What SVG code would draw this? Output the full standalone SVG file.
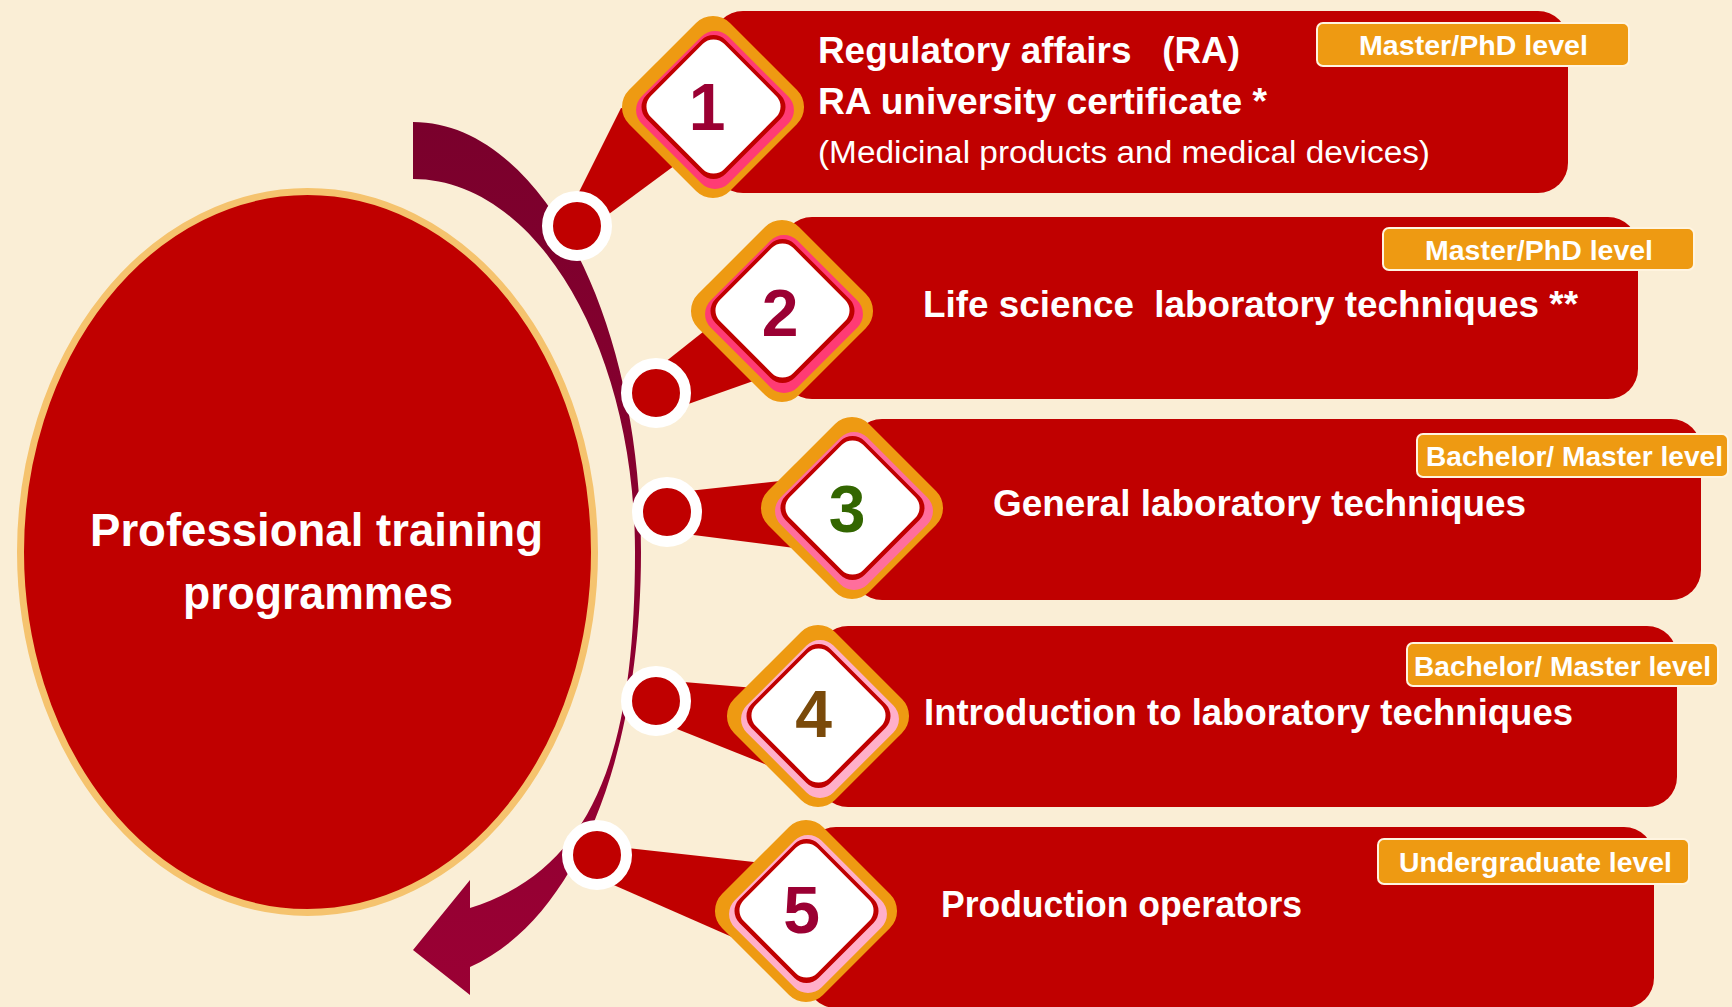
<svg xmlns="http://www.w3.org/2000/svg" xmlns:xlink="http://www.w3.org/1999/xlink" width="1732" height="1007" viewBox="0 0 1732 1007">
<style>
.bg{fill:#FAEED6}
.banner{fill:#C00000}
.band{fill:#C00000}
.dot{fill:#C00000;stroke:#FFFFFF;stroke-width:11}
.main{font-family:"Liberation Sans",Arial,sans-serif;font-weight:bold;fill:#FFFFFF;font-size:37px;white-space:pre}
.sub{font-family:"Liberation Sans",Arial,sans-serif;font-weight:normal;fill:#FFFFFF;font-size:31px;white-space:pre}
.lvl{fill:#EE9A12;stroke:#FFF4E0;stroke-width:2}
.lvlt{font-family:"Liberation Sans",Arial,sans-serif;font-weight:bold;fill:#FFFFFF;font-size:28px;text-anchor:middle}
.num{font-family:"Liberation Sans",Arial,sans-serif;font-weight:bold;font-size:66px;text-anchor:middle}
.title{font-family:"Liberation Sans",Arial,sans-serif;font-weight:bold;fill:#FFFFFF;font-size:46px;text-anchor:middle}
</style>
<defs>
<linearGradient id="arcGrad" x1="0" y1="0" x2="0" y2="1">
<stop offset="0" stop-color="#7A002C"/>
<stop offset="1" stop-color="#9A0034"/>
</linearGradient>
<rect id="dOuter" x="-71.4" y="-71.4" width="142.8" height="142.8" rx="24" transform="rotate(45)"/>
<rect id="dPink" x="-61.4" y="-61.4" width="122.8" height="122.8" rx="19" transform="translate(2,3) rotate(45)"/>
<rect id="dRed" x="-55.9" y="-55.9" width="111.8" height="111.8" rx="17" transform="translate(0.5,0) rotate(45)"/>
<rect id="dWhite" x="-51.8" y="-51.8" width="103.6" height="103.6" rx="15" transform="translate(0.5,-0.5) rotate(45)"/>
</defs>

<rect class="bg" x="0" y="0" width="1732" height="1007"/>

<g id="connectors">
<path id="cycle-arrow" fill="url(#arcGrad)" d="M413,122 C539,122 641,314.5 641,552 C641,760 575,920 470,967 L470,995 L413,950 L470,880 L470,908 C590,870 635,760 635,552 C635,346 535.6,179 413,179 Z"/>
<polygon class="band" points="566,218 621,108 700,120 678,163 590,228"/>
<polygon class="band" points="650,374 708,328 770,320 759,379 660,414"/>
<polygon class="band" points="670,493 789,480 830,508 802,549 670,532"/>
<polygon class="band" points="660,680 755,688 800,716 782,771 662,723"/>
<polygon class="band" points="600,845 763,863 790,911 748,944 600,879"/>
<circle class="dot" cx="577" cy="226" r="29.5"/>
<circle class="dot" cx="656" cy="393" r="29.5"/>
<circle class="dot" cx="667" cy="512" r="29.5"/>
<circle class="dot" cx="656" cy="701" r="29.5"/>
<circle class="dot" cx="597" cy="855" r="29.5"/>
</g>

<g id="center">
<ellipse cx="307.5" cy="552" rx="287" ry="360.5" fill="#C00000" stroke="#F5C36E" stroke-width="7"/>
<text class="title" x="316.5" y="546" textLength="453" lengthAdjust="spacingAndGlyphs">Professional training</text>
<text class="title" x="318" y="609" textLength="270" lengthAdjust="spacingAndGlyphs">programmes</text>
</g>

<g id="item1">
<rect class="banner" x="713" y="11" width="855" height="182" rx="30"/>
<use href="#dOuter" x="713" y="107" fill="#EE9A12"/>
<use href="#dPink" x="713" y="107" fill="#FF3B74"/>
<use href="#dRed" x="713" y="107" fill="#C00000"/>
<use href="#dWhite" x="713" y="107" fill="#FFFFFF"/>
<text class="num" x="707" y="130" fill="#9B0033">1</text>
<text class="main" x="818" y="63" textLength="422" lengthAdjust="spacingAndGlyphs">Regulatory affairs   (RA)</text>
<text class="main" x="818" y="114" textLength="449" lengthAdjust="spacingAndGlyphs">RA university certificate *</text>
<text class="sub" x="818" y="163" textLength="612" lengthAdjust="spacingAndGlyphs">(Medicinal products and medical devices)</text>
<rect class="lvl" x="1317" y="23" width="312" height="43" rx="6"/>
<text class="lvlt" x="1473.5" y="55" textLength="229" lengthAdjust="spacingAndGlyphs">Master/PhD level</text>
</g>

<g id="item2">
<rect class="banner" x="782" y="217" width="856" height="182" rx="30"/>
<use href="#dOuter" x="782" y="311" fill="#EE9A12"/>
<use href="#dPink" x="782" y="311" fill="#FF3B74"/>
<use href="#dRed" x="782" y="311" fill="#C00000"/>
<use href="#dWhite" x="782" y="311" fill="#FFFFFF"/>
<text class="num" x="780" y="336" fill="#9B0033">2</text>
<text class="main" x="923" y="317" textLength="655" lengthAdjust="spacingAndGlyphs">Life science  laboratory techniques **</text>
<rect class="lvl" x="1383" y="228" width="311" height="42" rx="6"/>
<text class="lvlt" x="1539" y="260" textLength="228" lengthAdjust="spacingAndGlyphs">Master/PhD level</text>
</g>

<g id="item3">
<rect class="banner" x="852" y="419" width="849" height="181" rx="30"/>
<use href="#dOuter" x="852" y="508" fill="#EE9A12"/>
<use href="#dPink" x="852" y="508" fill="#FF6E9C"/>
<use href="#dRed" x="852" y="508" fill="#C00000"/>
<use href="#dWhite" x="852" y="508" fill="#FFFFFF"/>
<text class="num" x="847" y="532" fill="#336600">3</text>
<text class="main" x="993" y="516" textLength="533" lengthAdjust="spacingAndGlyphs">General laboratory techniques</text>
<rect class="lvl" x="1417" y="434" width="311" height="43" rx="6"/>
<text class="lvlt" x="1574.5" y="466" textLength="297" lengthAdjust="spacingAndGlyphs">Bachelor/ Master level</text>
</g>

<g id="item4">
<rect class="banner" x="818" y="626" width="859" height="181" rx="30"/>
<use href="#dOuter" x="818" y="716" fill="#EE9A12"/>
<use href="#dPink" x="818" y="716" fill="#FFAFC9"/>
<use href="#dRed" x="818" y="716" fill="#C00000"/>
<use href="#dWhite" x="818" y="716" fill="#FFFFFF"/>
<text class="num" x="813.5" y="737" fill="#7A4A0A">4</text>
<text class="main" x="924" y="725" textLength="649" lengthAdjust="spacingAndGlyphs">Introduction to laboratory techniques</text>
<rect class="lvl" x="1407" y="643" width="311" height="43" rx="6"/>
<text class="lvlt" x="1562.5" y="676" textLength="297" lengthAdjust="spacingAndGlyphs">Bachelor/ Master level</text>
</g>

<g id="item5">
<rect class="banner" x="806" y="827" width="848" height="181" rx="30"/>
<use href="#dOuter" x="806" y="911" fill="#EE9A12"/>
<use href="#dPink" x="806" y="911" fill="#FFAFC9"/>
<use href="#dRed" x="806" y="911" fill="#C00000"/>
<use href="#dWhite" x="806" y="911" fill="#FFFFFF"/>
<text class="num" x="801.5" y="933" fill="#9B0033">5</text>
<text class="main" x="941" y="917" textLength="361" lengthAdjust="spacingAndGlyphs">Production operators</text>
<rect class="lvl" x="1378" y="839" width="311" height="45" rx="6"/>
<text class="lvlt" x="1535.5" y="872" textLength="273" lengthAdjust="spacingAndGlyphs">Undergraduate level</text>
</g>
</svg>
